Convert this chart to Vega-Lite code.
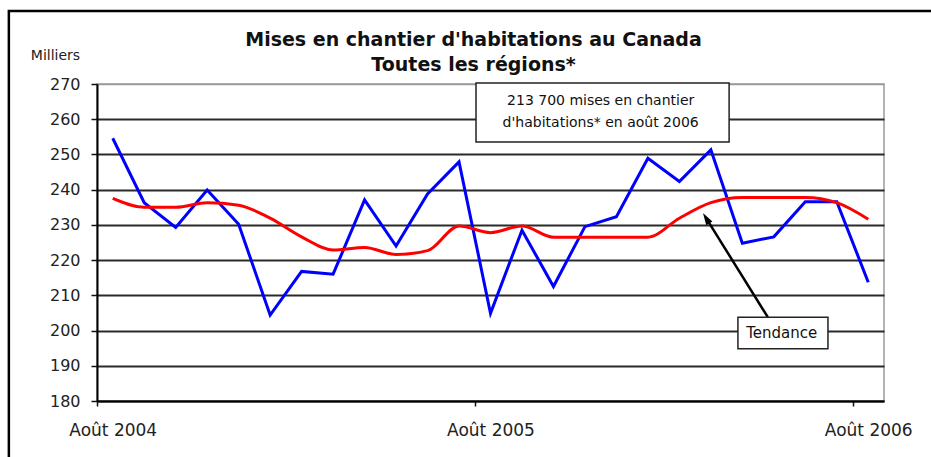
{
  "$schema": "https://vega.github.io/schema/vega-lite/v6.json",
  "width": 787,
  "height": 317,
  "autosize": {"type": "none"},
  "padding": {"left": 97, "top": 84, "right": 47, "bottom": 56},
  "background": "white",
  "config": {
    "view": {"stroke": "#9a9a9a", "strokeWidth": 1.5},
    "font": "DejaVu Sans"
  },
  "title": {
    "text": ["Mises en chantier d'habitations au Canada", "Toutes les régions*"],
    "font": "DejaVu Sans",
    "fontSize": 19,
    "fontWeight": "bold",
    "color": "#111111",
    "lineHeight": 25,
    "anchor": "middle",
    "frame": "group",
    "dx": -17,
    "dy": 71,
    "offset": 6
  },
  "datasets": {
    "serie": [
      {"m": 0, "reel": 254.6, "tendance": 237.5},
      {"m": 1, "reel": 236.3, "tendance": 235.0},
      {"m": 2, "reel": 229.3, "tendance": 235.0},
      {"m": 3, "reel": 239.9, "tendance": 236.3},
      {"m": 4, "reel": 230.2, "tendance": 235.6},
      {"m": 5, "reel": 204.4, "tendance": 231.9},
      {"m": 6, "reel": 216.8, "tendance": 226.6},
      {"m": 7, "reel": 216.0, "tendance": 222.9},
      {"m": 8, "reel": 237.1, "tendance": 223.6},
      {"m": 9, "reel": 224.0, "tendance": 221.6},
      {"m": 10, "reel": 238.8, "tendance": 222.7},
      {"m": 11, "reel": 247.9, "tendance": 229.7},
      {"m": 12, "reel": 204.9, "tendance": 227.8},
      {"m": 13, "reel": 228.5, "tendance": 229.7},
      {"m": 14, "reel": 212.5, "tendance": 226.5},
      {"m": 15, "reel": 229.5, "tendance": 226.5},
      {"m": 16, "reel": 232.3, "tendance": 226.5},
      {"m": 17, "reel": 248.9, "tendance": 226.5},
      {"m": 18, "reel": 242.3, "tendance": 231.9},
      {"m": 19, "reel": 251.3, "tendance": 236.3},
      {"m": 20, "reel": 224.8, "tendance": 237.8},
      {"m": 21, "reel": 226.6, "tendance": 237.8},
      {"m": 22, "reel": 236.6, "tendance": 237.8},
      {"m": 23, "reel": 236.6, "tendance": 236.3},
      {"m": 24, "reel": 213.7, "tendance": 231.6}
    ],
    "notes": [
      {"key": "box", "text": ["213 700 mises en chantier", "d'habitations* en août 2006"]},
      {"key": "tendance", "text": "Tendance"},
      {"key": "cadre", "text": ""}
    ]
  },
  "layer": [
    {
      "data": {"name": "serie"},
      "mark": {"type": "line", "color": "#0000ff", "strokeWidth": 3},
      "encoding": {
        "x": {
          "field": "m",
          "type": "quantitative",
          "scale": {"domain": [-0.5, 24.5], "nice": false, "zero": false},
          "axis": {
            "values": [-0.5, 11.5, 23.5],
            "labelExpr": "datum.value < 0 ? 'Août 2004' : (datum.value < 12 ? 'Août 2005' : 'Août 2006')",
            "labelOffset": 15.74,
            "labelFlush": false,
            "labelOverlap": false,
            "labelBound": false,
            "title": null,
            "grid": false,
            "tickSize": 5,
            "tickColor": "#111111",
            "tickWidth": 1.5,
            "domainColor": "#000000",
            "domainWidth": 2,
            "labelFont": "DejaVu Sans",
            "labelFontSize": 17,
            "labelColor": "#222222",
            "labelPadding": 16
          }
        },
        "y": {
          "field": "reel",
          "type": "quantitative",
          "scale": {"domain": [180, 270], "nice": false, "zero": false},
          "axis": {
            "values": [180, 190, 200, 210, 220, 230, 240, 250, 260, 270],
            "tickCount": 10,
            "labelOverlap": false,
            "labelBound": false,
            "title": "Milliers",
            "titleAngle": 0,
            "titleX": -42,
            "titleY": -29,
            "titleAlign": "center",
            "titleBaseline": "middle",
            "titleFont": "DejaVu Sans",
            "titleFontSize": 14,
            "titleFontWeight": "normal",
            "titleColor": "#222222",
            "labelFont": "DejaVu Sans",
            "labelFontSize": 16,
            "labelColor": "#222222",
            "labelPadding": 11,
            "tickSize": 6,
            "tickColor": "#111111",
            "tickWidth": 1.5,
            "domainColor": "#000000",
            "domainWidth": 2,
            "grid": true,
            "gridColor": {"condition": {"test": "datum.value === 270", "value": "#9a9a9a"}, "value": "#2a2a2a"},
            "gridWidth": {"condition": {"test": "datum.value === 270", "value": 1.5}, "value": 2}
          }
        }
      }
    },
    {
      "data": {"name": "serie"},
      "mark": {"type": "line", "color": "#ff0000", "strokeWidth": 3, "interpolate": "monotone"},
      "encoding": {
        "x": {"field": "m", "type": "quantitative"},
        "y": {"field": "tendance", "type": "quantitative"}
      }
    },
    {
      "data": {"name": "notes"},
      "transform": [{"filter": "datum.key === 'box'"}],
      "mark": {"type": "rect", "fill": "white", "stroke": "#222222", "strokeWidth": 1.5},
      "encoding": {
        "x": {"datum": 11.54},
        "x2": {"datum": 19.58},
        "y": {"datum": 270.3},
        "y2": {"datum": 253.5}
      }
    },
    {
      "data": {"name": "notes"},
      "transform": [{"filter": "datum.key === 'box'"}],
      "mark": {"type": "text", "align": "center", "baseline": "middle", "fontSize": 14, "lineHeight": 22, "font": "DejaVu Sans", "color": "#111111"},
      "encoding": {
        "x": {"datum": 15.5},
        "y": {"datum": 265.3},
        "text": {"field": "text"}
      }
    },
    {
      "data": {"name": "notes"},
      "transform": [{"filter": "datum.key === 'tendance'"}],
      "mark": {"type": "rule", "color": "#000000", "strokeWidth": 2.5},
      "encoding": {
        "x": {"datum": 20.81},
        "y": {"datum": 203.8},
        "x2": {"datum": 18.85},
        "y2": {"datum": 231.9}
      }
    },
    {
      "data": {"name": "notes"},
      "transform": [{"filter": "datum.key === 'tendance'"}],
      "mark": {"type": "point", "shape": "M0,-1L0.6,1L-0.6,1Z", "filled": true, "color": "#000000", "opacity": 1, "size": 144, "angle": 328},
      "encoding": {
        "x": {"datum": 18.85},
        "y": {"datum": 231.9}
      }
    },
    {
      "data": {"name": "notes"},
      "transform": [{"filter": "datum.key === 'tendance'"}],
      "mark": {"type": "rect", "fill": "white", "stroke": "#222222", "strokeWidth": 1.5},
      "encoding": {
        "x": {"datum": 19.86},
        "x2": {"datum": 22.72},
        "y": {"datum": 203.8},
        "y2": {"datum": 194.8}
      }
    },
    {
      "data": {"name": "notes"},
      "transform": [{"filter": "datum.key === 'tendance'"}],
      "mark": {"type": "text", "align": "center", "baseline": "middle", "fontSize": 15, "font": "DejaVu Sans", "color": "#111111"},
      "encoding": {
        "x": {"datum": 21.25},
        "y": {"datum": 199.4},
        "text": {"field": "text"}
      }
    },
    {
      "data": {"name": "notes"},
      "transform": [{"filter": "datum.key === 'cadre'"}],
      "mark": {"type": "rect", "fill": null, "fillOpacity": 0, "stroke": "#000000", "strokeWidth": 2.5},
      "encoding": {
        "x": {"datum": -3.3},
        "x2": {"datum": 26.6},
        "y": {"datum": 290.7},
        "y2": {"datum": 160}
      }
    }
  ]
}
